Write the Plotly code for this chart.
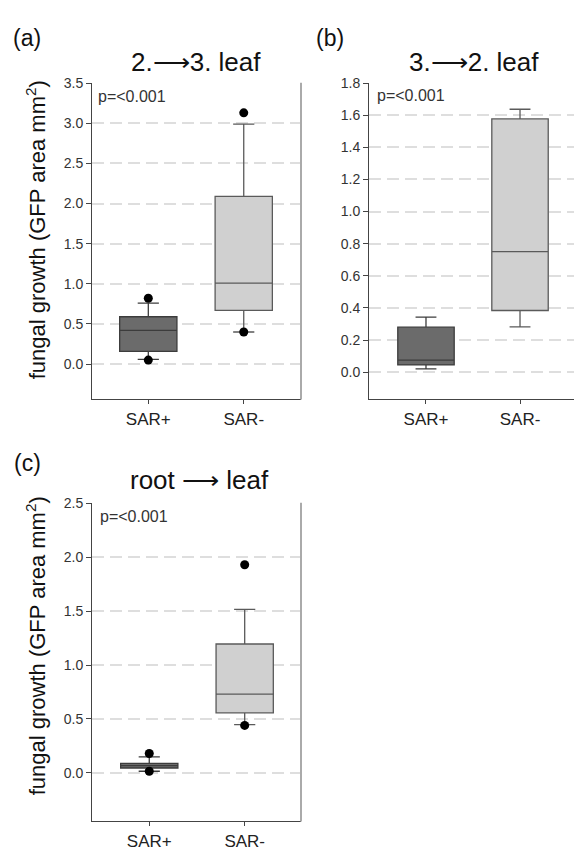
import plotly.graph_objects as go

W, H = 574, 851

categories = ["SAR+", "SAR-"]
box_fill = ["#6b6b6b", "#d0d0d0"]
box_line = ["#3c3c3c", "#5a5a5a"]

# Panel (a): 2. -> 3. leaf
a_q1 = [0.16, 0.67]
a_median = [0.42, 1.01]
a_q3 = [0.59, 2.09]
a_low = [0.06, 0.40]
a_high = [0.76, 2.99]
a_out_x = ["SAR+", "SAR+", "SAR-", "SAR-"]
a_out_y = [0.05, 0.82, 0.40, 3.13]
a_ticks = [0.0, 0.5, 1.0, 1.5, 2.0, 2.5, 3.0, 3.5]

# Panel (b): 3. -> 2. leaf
b_q1 = [0.045, 0.384]
b_median = [0.075, 0.751]
b_q3 = [0.28, 1.577]
b_low = [0.02, 0.282]
b_high = [0.343, 1.637]
b_out_x = []
b_out_y = []
b_ticks = [0.0, 0.2, 0.4, 0.6, 0.8, 1.0, 1.2, 1.4, 1.6, 1.8]

# Panel (c): root -> leaf
c_q1 = [0.045, 0.557]
c_median = [0.068, 0.73]
c_q3 = [0.088, 1.195]
c_low = [0.015, 0.447]
c_high = [0.149, 1.517]
c_out_x = ["SAR+", "SAR+", "SAR-", "SAR-"]
c_out_y = [0.015, 0.18, 0.44, 1.93]
c_ticks = [0.0, 0.5, 1.0, 1.5, 2.0, 2.5]

titles = ["2.\u27f63. leaf", "3.\u27f62. leaf", "root \u27f6 leaf"]
panel_labels = ["(a)", "(b)", "(c)"]
p_text = "p=<0.001"
y_title = "fungal growth (GFP area mm<sup>2</sup>)"

FONT = "Liberation Sans, Arial, sans-serif"

def px(x):
    return x / W

def py(y):
    return 1 - y / H

fig = go.Figure()

panels = [
    dict(q1=a_q1, med=a_median, q3=a_q3, lo=a_low, hi=a_high, ox=a_out_x, oy=a_out_y, ax="x", ay="y"),
    dict(q1=b_q1, med=b_median, q3=b_q3, lo=b_low, hi=b_high, ox=b_out_x, oy=b_out_y, ax="x2", ay="y2"),
    dict(q1=c_q1, med=c_median, q3=c_q3, lo=c_low, hi=c_high, ox=c_out_x, oy=c_out_y, ax="x3", ay="y3"),
]

for p in panels:
    for i, cat in enumerate(categories):
        fig.add_trace(go.Box(
            x=[cat], q1=[p["q1"][i]], median=[p["med"][i]], q3=[p["q3"][i]],
            lowerfence=[p["lo"][i]], upperfence=[p["hi"][i]],
            boxpoints=False, width=0.6, whiskerwidth=0.37,
            fillcolor=box_fill[i], line=dict(color=box_line[i], width=1.3),
            xaxis=p["ax"], yaxis=p["ay"], showlegend=False, hoverinfo="skip",
        ))
    if p["ox"]:
        fig.add_trace(go.Scatter(
            x=p["ox"], y=p["oy"], mode="markers",
            marker=dict(color="black", size=9),
            xaxis=p["ax"], yaxis=p["ay"], showlegend=False, hoverinfo="skip",
        ))

xdom_left = [px(92), px(301)]
xdom_b = [px(369), 1.0]
ydom_top = [py(398), py(76)]
ydom_bot = [py(827), py(503)]

grid = dict(showgrid=True, gridcolor="#dedede", gridwidth=1.5, griddash="12px,6px")
yax_common = dict(showline=True, linecolor="#444", linewidth=1, ticks="outside", ticklen=5,
                  tickcolor="#444", tickwidth=1, zeroline=False, tickformat=".1f",
                  tickfont=dict(family=FONT, size=14, color="#333"), **grid)
xax_common = dict(showline=True, linecolor="#444", linewidth=1, ticks="outside", ticklen=4,
                  tickcolor="#444", showgrid=False, zeroline=False, type="category",
                  categoryorder="array", categoryarray=categories,
                  tickfont=dict(family=FONT, size=17, color="#222"))

fig.update_layout(
    width=W, height=H,
    margin=dict(l=0, r=0, t=0, b=0),
    paper_bgcolor="white", plot_bgcolor="white",
    showlegend=False,
    xaxis=dict(domain=xdom_left, anchor="y", range=[-0.59, 1.6], **xax_common),
    yaxis=dict(domain=ydom_top, anchor="x", range=[-0.44, 3.505], tickvals=a_ticks, **yax_common),
    xaxis2=dict(domain=xdom_b, anchor="y2", range=[-0.606, 1.574], **xax_common),
    yaxis2=dict(domain=ydom_top, anchor="x2", range=[-0.17, 1.802], tickvals=b_ticks, **yax_common),
    xaxis3=dict(domain=xdom_left, anchor="y3", range=[-0.6, 1.59], **xax_common),
    yaxis3=dict(domain=ydom_bot, anchor="x3", range=[-0.45, 2.505], tickvals=c_ticks, **yax_common),
)

# right borders of panels (a) and (c)
for xr, yr in [("x domain", "y domain"), ("x3 domain", "y3 domain")]:
    fig.add_shape(type="line", xref=xr, yref=yr, x0=1, x1=1, y0=0, y1=1,
                  line=dict(color="#aaaaaa", width=2))

ann = []
# titles
for t, (cx, cy) in zip(titles, [(196, 55), (474, 55), (199, 480)]):
    ann.append(dict(text=t, x=px(cx), y=py(cy), xref="paper", yref="paper",
                    xanchor="center", yanchor="middle", showarrow=False,
                    font=dict(family=FONT, size=26, color="#111")))
# panel labels
for t, (cx, cy) in zip(panel_labels, [(27, 31), (330, 31), (27, 463)]):
    ann.append(dict(text=t, x=px(cx), y=py(cy), xref="paper", yref="paper",
                    xanchor="center", yanchor="middle", showarrow=False,
                    font=dict(family=FONT, size=23, color="#111")))
# p-values
for (lx, cy) in [(96, 90), (375, 89), (98, 517)]:
    ann.append(dict(text=p_text, x=px(lx), y=py(cy), xref="paper", yref="paper",
                    xanchor="left", yanchor="middle", showarrow=False,
                    font=dict(family=FONT, size=16, color="#333")))
# y titles
for (cx, cy) in [(36, 226), (36, 649)]:
    ann.append(dict(text=y_title, x=px(cx), y=py(cy), xref="paper", yref="paper",
                    xanchor="center", yanchor="middle", showarrow=False, textangle=-90,
                    font=dict(family=FONT, size=22, color="#111")))
fig.update_layout(annotations=ann)

fig.write_html("out.html")
